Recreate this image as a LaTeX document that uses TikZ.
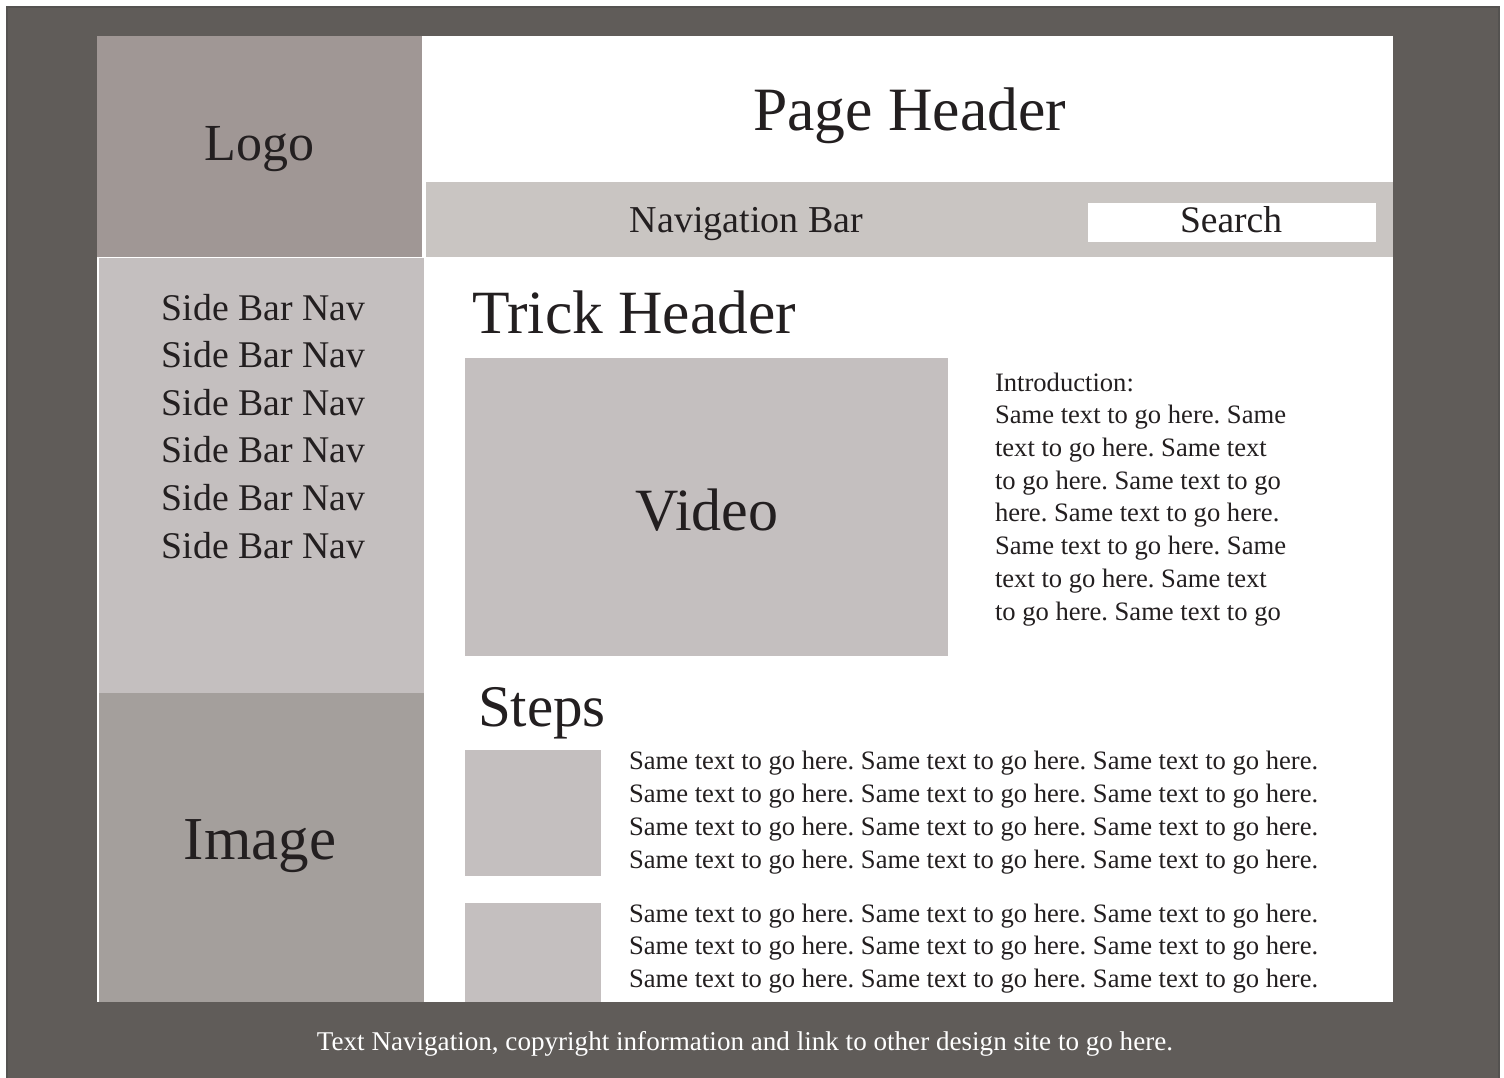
\documentclass[tikz,border=0pt]{standalone}
\usepackage{fontspec}
\setmainfont{Liberation Serif}
\usepackage{tikz}
\usetikzlibrary{positioning}
\frenchspacing
\definecolor{framecol}{RGB}{96,92,89}
\definecolor{framedark}{RGB}{84,82,80}
\definecolor{logocol}{RGB}{160,151,149}
\definecolor{navcol}{RGB}{201,197,194}
\definecolor{boxcol}{RGB}{196,191,191}
\definecolor{imagecol}{RGB}{164,159,156}
\definecolor{inkcol}{RGB}{35,31,32}
\tikzset{myfillcolor/.style = {fill=#1, draw=none, inner sep=0pt, outer sep=0pt, anchor=north west}}
\tikzset{mytext/.style = {text=inkcol, inner sep=0pt, outer sep=0pt, font=\fontsize{#1}{#1}\selectfont}}
\tikzset{bodytext/.style = {text=inkcol, inner sep=0pt, outer sep=0pt, align=left, anchor=base west, font=\fontsize{26.6}{32.7}\selectfont}}
\NewDocumentCommand{\fblock}{O{boxcol} m m m m}{%
	\node[myfillcolor=#1, minimum width=#4, minimum height=#5] (#2) at (#3) {};
}

\begin{document}
\begin{tikzpicture}[x=1pt, y=-1pt]
\useasboundingbox (0,0) rectangle (1504,1077);
% frame and page
\fill[framecol, draw=framedark, line width=2pt] (7,7) rectangle (1499,1090);
\fblock[white]{page}{97,36}{1296}{966}
% header row
\fblock[logocol]{logo}{97,36}{325}{221}
\fblock[navcol]{nav}{426,182}{967}{75}
\fblock[white]{search}{1088,203}{288}{39}
% side column
\fblock[boxcol]{side}{99,258}{325}{435}
\fblock[imagecol]{image}{99,693}{325}{309}
% content
\fblock[boxcol]{video}{465,358}{483}{298}
\fblock[boxcol]{stepa}{465,750}{136}{126}
\fblock[boxcol]{stepb}{465,903}{136}{99}

% texts, multi-line ones sit on their last baseline
\node[mytext=52, anchor=base] (logotxt) at (259.5,160) {Logo};
\node[mytext=61.6, anchor=base] (headtxt) at (909.5,130) {Page Header};
\node[mytext=38, anchor=base] (navtxt) at (746.5,232) {Navigation Bar};
\node[mytext=37.5, anchor=base] (searchtxt) at (1231,232) {Search};
\node[mytext=37.7, align=center, anchor=base,
      font=\fontsize{37.7}{47.6}\selectfont] (sidetxt) at (263.5,558)
      {Side Bar Nav\\Side Bar Nav\\Side Bar Nav\\Side Bar Nav\\Side Bar Nav\\Side Bar Nav};
\node[mytext=61, anchor=base] (imagetxt) at (260,859) {Image};
\node[mytext=61.5, anchor=base west] (tricktxt) at (472,333) {Trick Header};
\node[mytext=60, anchor=base] (videotxt) at (707,530) {Video};
\node[bodytext] (introtxt) at (995,620)
      {Introduction:\\Same text to go here. Same\\text to go here. Same text\\to go here. Same text to go\\here. Same text to go here.\\Same text to go here. Same\\text to go here. Same text\\to go here. Same text to go};
\node[mytext=59, anchor=base west] (stepstxt) at (478,726) {Steps};
\node[bodytext] (stepatxt) at (629,868)
      {Same text to go here. Same text to go here. Same text to go here.\\Same text to go here. Same text to go here. Same text to go here.\\Same text to go here. Same text to go here. Same text to go here.\\Same text to go here. Same text to go here. Same text to go here.};
\node[bodytext] (stepbtxt) at (629,987.4)
      {Same text to go here. Same text to go here. Same text to go here.\\Same text to go here. Same text to go here. Same text to go here.\\Same text to go here. Same text to go here. Same text to go here.};
\node[mytext=27.1, text=white, anchor=base] (foottxt) at (745,1050)
      {Text Navigation, copyright information and link to other design site to go here.};
\end{tikzpicture}
\end{document}
